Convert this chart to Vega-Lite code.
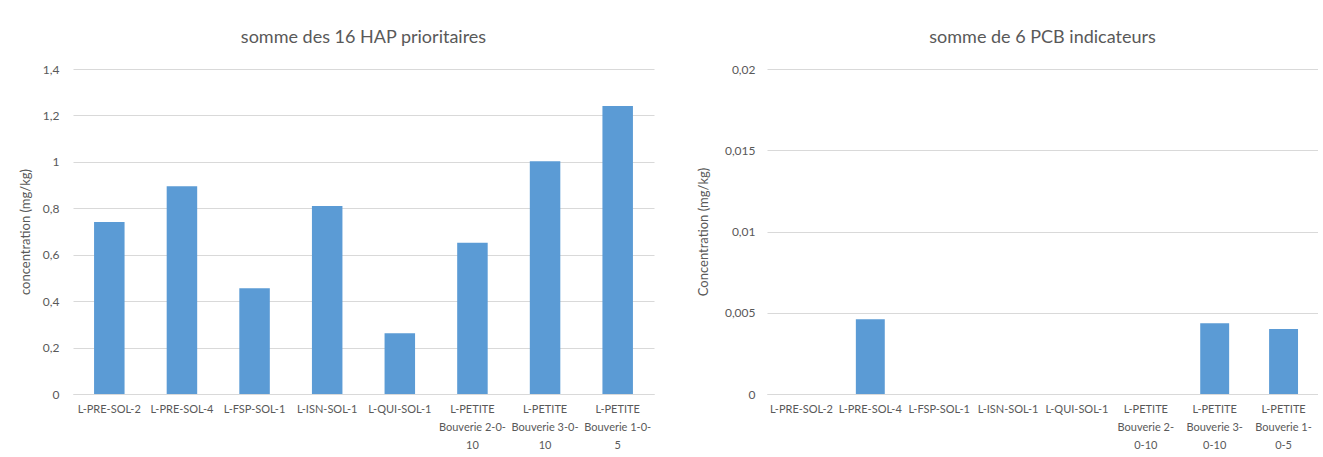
{
  "$schema": "https://vega.github.io/schema/vega-lite/v6.json",
  "padding": {"left": 19, "top": 29, "right": 0, "bottom": 0},
  "background": "white",
  "datasets": {
    "hap": [
      {"echantillon": "L-PRE-SOL-2", "valeur": 0.741},
      {"echantillon": "L-PRE-SOL-4", "valeur": 0.895},
      {"echantillon": "L-FSP-SOL-1", "valeur": 0.456},
      {"echantillon": "L-ISN-SOL-1", "valeur": 0.81},
      {"echantillon": "L-QUI-SOL-1", "valeur": 0.262},
      {"echantillon": "L-PETITE Bouverie 2-0-10", "valeur": 0.652},
      {"echantillon": "L-PETITE Bouverie 3-0-10", "valeur": 1.003},
      {"echantillon": "L-PETITE Bouverie 1-0-5", "valeur": 1.241}
    ],
    "pcb": [
      {"echantillon": "L-PRE-SOL-2", "valeur": 0},
      {"echantillon": "L-PRE-SOL-4", "valeur": 0.0046},
      {"echantillon": "L-FSP-SOL-1", "valeur": 0},
      {"echantillon": "L-ISN-SOL-1", "valeur": 0},
      {"echantillon": "L-QUI-SOL-1", "valeur": 0},
      {"echantillon": "L-PETITE Bouverie 2-0-10", "valeur": 0},
      {"echantillon": "L-PETITE Bouverie 3-0-10", "valeur": 0.00435},
      {"echantillon": "L-PETITE Bouverie 1-0-5", "valeur": 0.004}
    ]
  },
  "config": {
    "font": "Lato",
    "view": {"stroke": null},
    "title": {"fontSize": 18, "fontWeight": "normal", "color": "#595959", "offset": 16, "font": "Lato"},
    "axis": {
      "labelColor": "#595959",
      "titleColor": "#595959",
      "labelFontSize": 12,
      "titleFontSize": 13,
      "titleFontWeight": "normal",
      "ticks": false,
      "gridColor": "#D9D9D9",
      "domainColor": "#D9D9D9"
    },
    "bar": {"color": "#5B9BD5"},
    "concat": {"spacing": 43}
  },
  "hconcat": [
    {
      "width": 581,
      "height": 325,
      "title": "somme des 16 HAP prioritaires",
      "data": {"name": "hap"},
      "mark": "bar",
      "encoding": {
        "x": {
          "field": "echantillon",
          "type": "nominal",
          "sort": null,
          "scale": {"paddingInner": 0.58, "paddingOuter": 0.29},
          "axis": {
            "title": null,
            "labelAngle": 0,
            "labelFontSize": 11,
            "labelPadding": 9,
            "labelLineHeight": 18,
            "labelBaseline": "top",
            "grid": false,
            "labelExpr": "datum.label == 'L-PETITE Bouverie 2-0-10' ? ['L-PETITE', 'Bouverie 2-0-', '10'] : datum.label == 'L-PETITE Bouverie 3-0-10' ? ['L-PETITE', 'Bouverie 3-0-', '10'] : datum.label == 'L-PETITE Bouverie 1-0-5' ? ['L-PETITE', 'Bouverie 1-0-', '5'] : datum.label"
          }
        },
        "y": {
          "field": "valeur",
          "type": "quantitative",
          "scale": {"domain": [0, 1.4], "nice": false},
          "axis": {
            "title": "concentration (mg/kg)",
            "values": [0, 0.2, 0.4, 0.6, 0.8, 1, 1.2, 1.4],
            "domain": false,
            "labelPadding": 14,
            "titlePadding": 10,
            "labelExpr": "replace(format(datum.value, '~g'), '.', ',')"
          }
        }
      }
    },
    {
      "width": 551,
      "height": 325,
      "title": "somme de 6 PCB indicateurs",
      "data": {"name": "pcb"},
      "mark": "bar",
      "encoding": {
        "x": {
          "field": "echantillon",
          "type": "nominal",
          "sort": null,
          "scale": {"paddingInner": 0.58, "paddingOuter": 0.29},
          "axis": {
            "title": null,
            "labelAngle": 0,
            "labelFontSize": 11,
            "labelPadding": 9,
            "labelLineHeight": 18,
            "labelBaseline": "top",
            "grid": false,
            "labelExpr": "datum.label == 'L-PETITE Bouverie 2-0-10' ? ['L-PETITE', 'Bouverie 2-', '0-10'] : datum.label == 'L-PETITE Bouverie 3-0-10' ? ['L-PETITE', 'Bouverie 3-', '0-10'] : datum.label == 'L-PETITE Bouverie 1-0-5' ? ['L-PETITE', 'Bouverie 1-', '0-5'] : datum.label"
          }
        },
        "y": {
          "field": "valeur",
          "type": "quantitative",
          "scale": {"domain": [0, 0.02], "nice": false},
          "axis": {
            "title": "Concentration (mg/kg)",
            "values": [0, 0.005, 0.01, 0.015, 0.02],
            "domain": false,
            "labelPadding": 12,
            "titlePadding": 14,
            "labelExpr": "replace(format(datum.value, '~g'), '.', ',')"
          }
        }
      }
    }
  ]
}
